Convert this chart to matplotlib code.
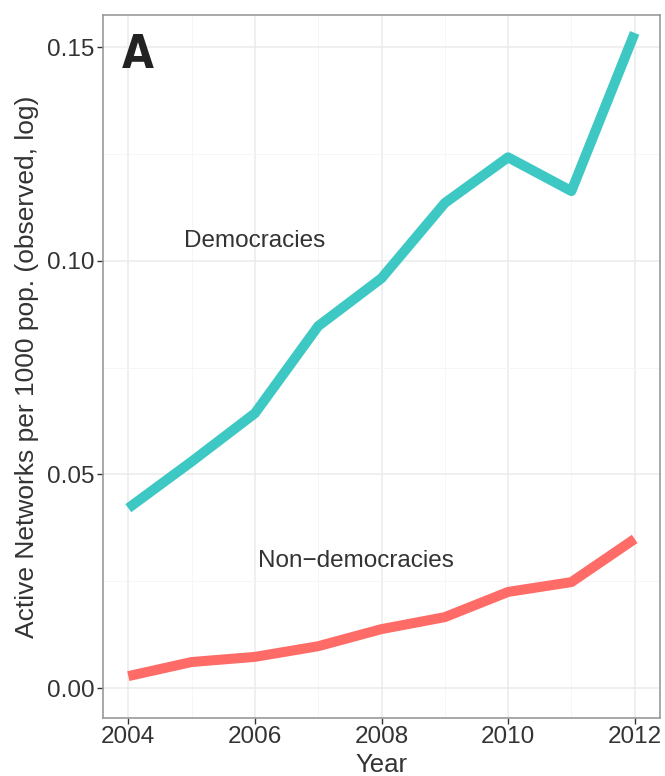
import matplotlib
matplotlib.use("Agg")
import matplotlib.pyplot as plt
from matplotlib.ticker import MultipleLocator

years = [2004, 2005, 2006, 2007, 2008, 2009, 2010, 2011, 2012]
democracies = [0.0421, 0.0530, 0.0643, 0.0847, 0.0959, 0.1135, 0.1242, 0.1163, 0.1533]
non_democracies = [0.0028, 0.0061, 0.0073, 0.0098, 0.0138, 0.0166, 0.0225, 0.0248, 0.0349]
x_ticks = [2004, 2006, 2008, 2010, 2012]
y_ticks = [0.00, 0.05, 0.10, 0.15]
y_tick_labels = ["0.00", "0.05", "0.10", "0.15"]

plt.rcParams['font.family'] = ['Liberation Sans', 'DejaVu Sans']

fig = plt.figure(figsize=(6.65, 7.76), dpi=100)
ax = fig.add_axes([103/665, 1 - 718/776, (660-103)/665, (718-15)/776])

ax.plot(years, democracies, color="#3EC8C4", lw=7.2, solid_capstyle='butt', zorder=3)
ax.plot(years, non_democracies, color="#FF6B66", lw=7.2, solid_capstyle='butt', zorder=3)

ax.text(2006.0, 0.1046, "Democracies", fontsize=17.5, color="#333333", ha='center', va='center')
ax.text(2007.6, 0.0297, "Non\u2212democracies", fontsize=17.5, color="#333333", ha='center', va='center')

ax.set_xlim(2003.6, 2012.4)
ax.set_ylim(-0.007, 0.1575)
ax.set_xticks(x_ticks)
ax.set_yticks(y_ticks)
ax.set_yticklabels(y_tick_labels)
ax.xaxis.set_minor_locator(MultipleLocator(1))
ax.yaxis.set_minor_locator(MultipleLocator(0.025))
ax.grid(which='major', color="#EBEBEB", lw=1.1, zorder=0)
ax.grid(which='minor', color="#F5F5F5", lw=0.6, zorder=0)
ax.set_axisbelow(True)
ax.tick_params(which='major', length=4, width=1, color="#333333", labelsize=17.5, labelcolor="#333333", pad=2)
ax.tick_params(which='minor', length=0)
for s in ax.spines.values():
    s.set_color("#999999")
    s.set_linewidth(1.2)

ax.set_xlabel("Year", fontsize=18.5, color="#333333", labelpad=3)
ax.set_ylabel("Active Networks per 1000 pop. (observed, log)", fontsize=19, color="#333333", labelpad=6)

ax.text(0.034, 0.974, "A", transform=ax.transAxes, fontsize=33, fontweight='bold',
        family='DejaVu Sans', fontstretch='condensed', color="#222222", ha='left', va='top')

fig.savefig("out.png", dpi=100)
